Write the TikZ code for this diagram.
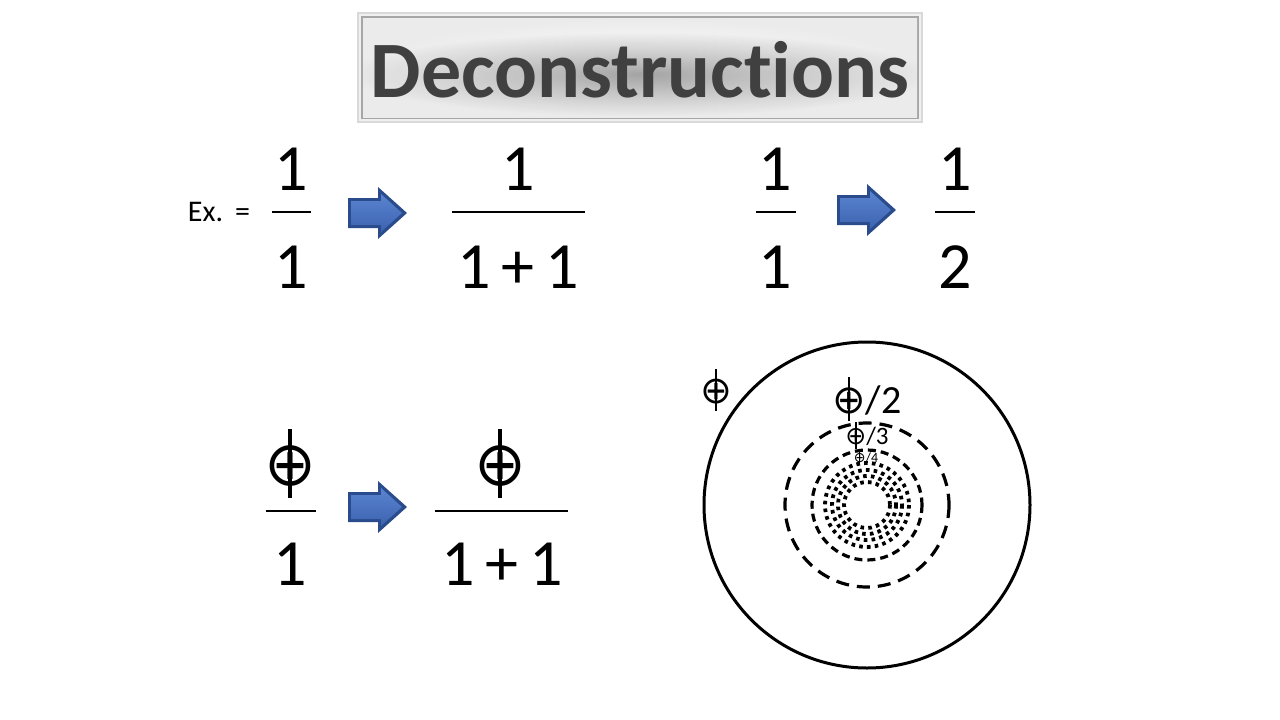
\documentclass[tikz,border=0pt]{standalone}
\usepackage{fontspec}
\setmainfont[Ligatures=NoCommon]{Carlito}
\newfontfamily\djv{DejaVu Sans}
\usetikzlibrary{shadings,fadings}
\definecolor{titletext}{HTML}{404040}
\definecolor{arrowdark}{HTML}{2A4C8C}
\definecolor{arrowmid}{HTML}{3C63B0}
\definecolor{arrowlight}{HTML}{5A84D0}
\tikzfading[name=halofade, inner color=transparent!65, outer color=transparent!100]
\newsavebox\phibox
\newcommand{\phisym}{\mbox{\sbox\phibox{\djv ⊕}\usebox\phibox\hspace{-\wd\phibox}\makebox[\wd\phibox]{\rule[-0.21em]{0.06em}{1.11em}}}}
\tikzset{
  digit/.style={anchor=base, inner sep=0pt, font=\fontsize{66}{66}\selectfont},
  bigphi/.style={anchor=base, inner sep=0pt, font=\fontsize{62}{62}\selectfont},
  fracbar/.style={line width=2pt},
  ring/.style={line width=3pt},
  dashring/.style={line width=3.2pt, dash pattern=on 13pt off 8pt},
  dashringb/.style={line width=3.2pt, dash pattern=on 8pt off 5pt},
  dotring/.style={line width=3.8pt, dash pattern=on 3.6pt off 4.2pt},
}
\newcommand{\blockarrow}[3]{% name, x0, y0
  \begin{scope}[shift={(#2,#3)}]
    \fill[arrowdark] (0,-15) -- (30,-15) -- (30,-26) -- (59,0) -- (30,26) -- (30,15) -- (0,15) -- cycle;
    \shade[top color=arrowlight, bottom color=arrowmid] (3,-12) -- (33,-12) -- (33,-19) -- (54,0) -- (33,19) -- (33,12) -- (3,12) -- cycle;
    \coordinate (#1) at (29,0);
  \end{scope}}
\begin{document}
\begin{tikzpicture}[x=1pt,y=-1pt]
\useasboundingbox (0,0) rectangle (1280,720);
\fill[white] (0,0) rectangle (1280,720);
% title
\fill[gray!30] (357,12) rectangle (923,123);
\fill[gray!12] (359,14) rectangle (921,121);
\draw[gray!70, line width=1.2pt] (362,17) rectangle (918,118);
\shade[inner color=white, outer color=gray!16] (363,18) rectangle (917,117);
\begin{scope}
  \clip (363,18) rectangle (917,117);
  \fill[black, path fading=halofade] (350,32) rectangle (930,116);
\end{scope}
\node[font=\bfseries\fontsize{80}{80}\selectfont, text=titletext, inner sep=0pt, anchor=base] (title) at (640,97) {Deconstructions};
% row 1
\node[anchor=base, inner sep=0pt, font=\fontsize{30}{30}\selectfont] (ex) at (219,221) {Ex.\hspace{12pt}=};
\node[digit] (n1) at (291,190) {1};
\draw[fracbar] (272,212) -- (311,212);
\node[digit] (d1) at (291,288) {1};
\blockarrow{a1}{348}{213}
\node[digit] (n2) at (518,190) {1};
\draw[fracbar] (452,212) -- (585,212);
\node[digit] (d2) at (518,288) {1\hspace{0.16em}+\hspace{0.16em}1};
\node[digit] (n3) at (775,190) {1};
\draw[fracbar] (756,212) -- (796,212);
\node[digit] (d3) at (775,288) {1};
\blockarrow{a2}{837}{210}
\node[digit] (n4) at (955,190) {1};
\draw[fracbar] (935,212) -- (975,212);
\node[digit] (d4) at (955,288) {2};
% row 2
\node[bigphi] (n5) at (290,485) {\phisym};
\draw[fracbar] (266,511) -- (316,511);
\node[digit] (d5) at (290,585) {1};
\blockarrow{a3}{348}{507}
\node[bigphi] (n6) at (500,485) {\phisym};
\draw[fracbar] (435,511) -- (568,511);
\node[digit] (d6) at (502,585) {1\hspace{0.16em}+\hspace{0.16em}1};
% circles
\coordinate (c) at (867,505);
\draw[ring] (c) circle[radius=163];
\draw[dashring] (c) circle[radius=82];
\draw[dashringb] (c) circle[radius=55];
\foreach \r in {42,35,29,23} {
  \draw[dotring] (c) circle[radius=\r];
}
\node[anchor=base, inner sep=0pt, font=\fontsize{38}{38}\selectfont] (p1) at (716,403) {\phisym};
\node[anchor=base, inner sep=0pt, font=\fontsize{40}{40}\selectfont] (p2) at (867,413) {\phisym/2};
\node[anchor=base, inner sep=0pt, font=\fontsize{25}{25}\selectfont] (p3) at (867,444) {\phisym/3};
\node[anchor=base, inner sep=0pt, font=\fontsize{14}{14}\selectfont] (p4) at (866,462) {\phisym/4};
\end{tikzpicture}
\end{document}
